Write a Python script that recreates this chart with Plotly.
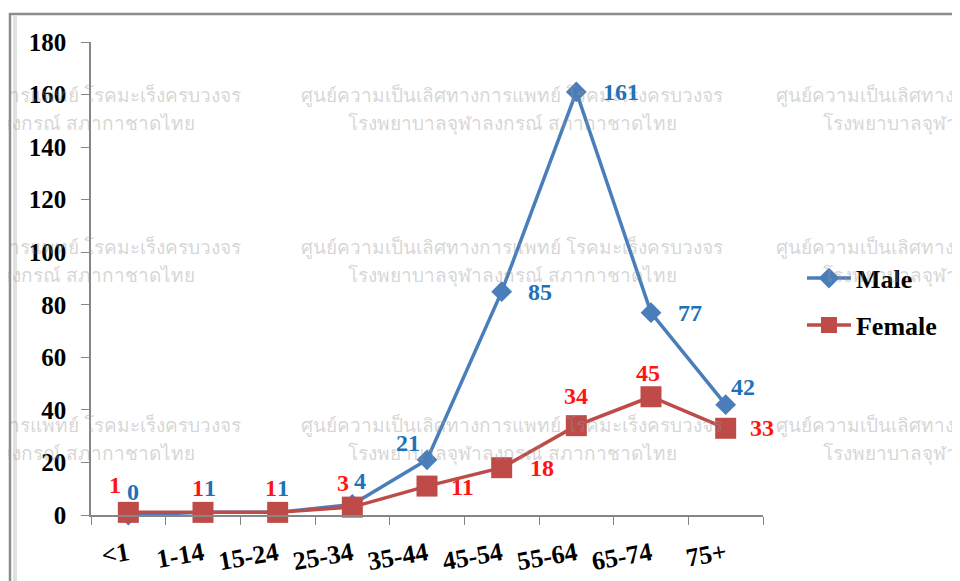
import plotly.graph_objects as go

categories = ["<1", "1-14", "15-24", "25-34", "35-44", "45-54", "55-64", "65-74", "75+"]
male = [0, 1, 1, 4, 21, 85, 161, 77, 42]
female = [1, 1, 1, 3, 11, 18, 34, 45, 33]
y_ticks = [0, 20, 40, 60, 80, 100, 120, 140, 160, 180]

wm_line1 = "ศูนย์ความเป็นเลิศทางการแพทย์ โรคมะเร็งครบวงจร"
wm_line2 = "โรงพยาบาลจุฬาลงกรณ์ สภากาชาดไทย"

# label pixel offsets (dx, dy) relative to the point, dy positive = down
male_off = [(5, -23), (7, -24), (5, -24), (8, -23), (-19, -17), (38, 0), (45, 0), (39, 0), (17, -18)]
female_off = [(-13, -27), (-5, -24), (-7, -24), (-9, -24), (35, 1), (40, 0), (0, -30), (-3, -24), (36, 0)]

MALE_LINE = "#4A7EBB"
FEMALE_LINE = "#BE4B48"
MALE_TXT = "#1F72B8"
FEMALE_TXT = "#FF1414"
SERIF = "Liberation Serif"

OFF = 8  # page body margin
L, T, W, H = 91 - OFF, 42 - OFF, 672, 473
FW, FH = 960, 581

def px2paper(px, py):
    # px, py in page (screenshot) pixels
    return (px - OFF - L) / W, (T + H - (py - OFF)) / H

fig = go.Figure()
fig.add_trace(go.Scatter(
    x=categories, y=male, name="Male", mode="lines+markers",
    line=dict(color=MALE_LINE, width=3.5),
    marker=dict(symbol="diamond", size=16, color=MALE_LINE),
    cliponaxis=False, legendgroup="g0",
))
fig.add_trace(go.Scatter(
    x=categories, y=female, name="Female", mode="lines+markers",
    line=dict(color=FEMALE_LINE, width=3.5),
    marker=dict(symbol="square", size=21, color=FEMALE_LINE),
    cliponaxis=False, legendgroup="g1",
))

annotations = []
# watermark
for cx in [30, 512, 987]:
    for (y1, y2) in [(95, 123), (247, 275), (425, 453)]:
        for txt, py in [(wm_line1, y1), (wm_line2, y2)]:
            xp, yp = px2paper(cx, py)
            annotations.append(dict(
                x=xp, y=yp, xref="paper", yref="paper", text=txt, showarrow=False,
                xanchor="center", yanchor="middle",
                font=dict(family="Noto Sans, DejaVu Sans, sans-serif", size=19,
                          color="rgba(150,150,150,0.40)"),
            ))

for cat, v, (dx, dy) in zip(categories, male, male_off):
    annotations.append(dict(x=cat, y=v, xref="x", yref="y", text=str(v), showarrow=False,
                            xshift=dx, yshift=-dy,
                            font=dict(family=SERIF, size=24, color=MALE_TXT, weight="bold")))
for cat, v, (dx, dy) in zip(categories, female, female_off):
    annotations.append(dict(x=cat, y=v, xref="x", yref="y", text=str(v), showarrow=False,
                            xshift=dx, yshift=-dy,
                            font=dict(family=SERIF, size=24, color=FEMALE_TXT, weight="bold")))

x0, y0 = px2paper(10, 14)
x1, y1 = px2paper(1000, 640)
shapes = [
    dict(type="rect", xref="paper", yref="paper", x0=x0, y0=y1, x1=x1, y1=y0,
         line=dict(color="#8C8C8C", width=2.5), fillcolor="rgba(0,0,0,0)", layer="below"),
]
sx0, _ = px2paper(13, 0)
sx1, _ = px2paper(17, 0)
shapes.append(dict(type="rect", xref="paper", yref="paper", x0=sx0, x1=sx1, y0=y1, y1=y0 - 0.004,
                   line=dict(width=0), fillcolor="rgba(170,170,170,0.35)", layer="below"))

fig.update_layout(
    width=FW, height=FH,
    margin=dict(l=L, r=FW - L - W, t=T, b=FH - T - H, autoexpand=False),
    paper_bgcolor="white", plot_bgcolor="white",
    showlegend=True,
    legend=dict(x=1.058, y=0.451, xanchor="left", yanchor="middle",
                font=dict(family=SERIF, size=26, color="black", weight="bold"),
                bgcolor="rgba(0,0,0,0)", tracegroupgap=10, itemwidth=44,
                traceorder="grouped"),
    annotations=annotations,
    shapes=shapes,
    xaxis=dict(type="category", tickson="boundaries", ticks="outside", ticklen=8,
               tickcolor="#868686", showline=True, linecolor="#868686", linewidth=1.5,
               showgrid=False, zeroline=False, tickangle=-10, ticklabelstandoff=12,
               tickfont=dict(family=SERIF, size=26, color="black", weight="bold"),
               range=[-0.5, 8.5], automargin=False),
    yaxis=dict(range=[0, 180], tickvals=y_ticks, ticks="outside", ticklen=8,
               tickcolor="#868686", showline=True, linecolor="#868686", linewidth=1.5,
               showgrid=False, zeroline=False, ticklabelstandoff=10,
               tickfont=dict(family=SERIF, size=25, color="black", weight="bold"),
               automargin=False),
)

fig.write_html("out.html")
